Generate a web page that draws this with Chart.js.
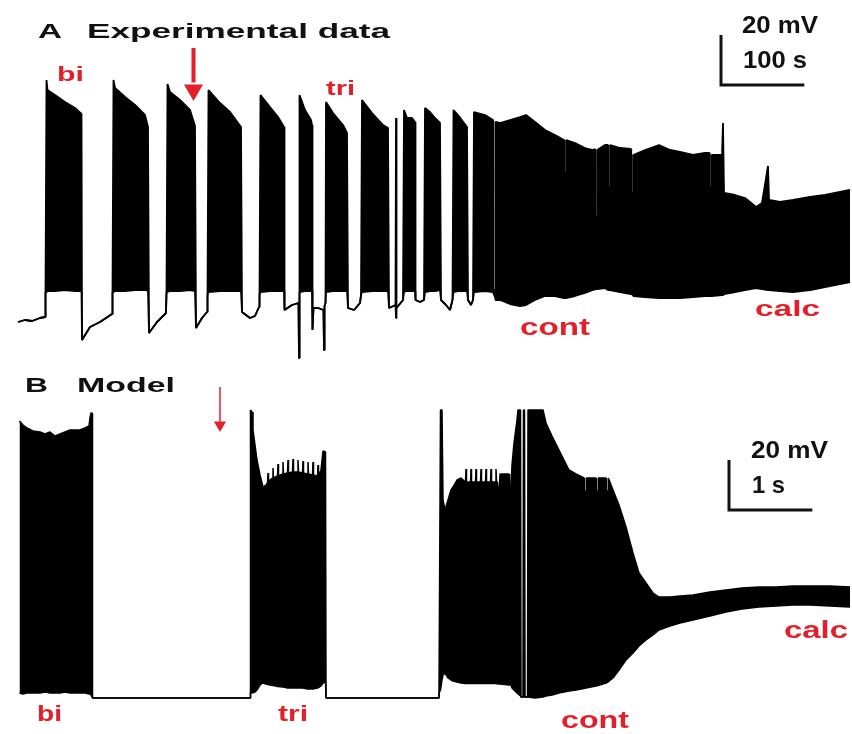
<!DOCTYPE html>
<html>
<head>
<meta charset="utf-8">
<script src="https://cdn.jsdelivr.net/npm/chart.js@4.4.0/dist/chart.umd.min.js"></script>
<style>
body { margin: 0; background: #fff; }
#wrap { position: relative; width: 852px; height: 734px; overflow: hidden; background: #fff; }
canvas { position: absolute; left: 0; display: block; }
.lbl { position: absolute; white-space: nowrap; font-family: "Liberation Sans", Arial, sans-serif; font-weight: bold; line-height: 1; transform-origin: 0 0; }
</style>
</head>
<body>
<div id="wrap">
  <canvas id="chartA" width="852" height="365" style="top:0px"></canvas>
  <canvas id="chartB" width="852" height="369" style="top:365px"></canvas>
</div>
<script>
// Panel A - experimental recording (time in s, membrane potential in mV)
// upper and lower edge of the trace; where they are equal the trace is a single line
var timeA = [
  0, 8.4, 16.8, 26.4, 32.4, 33,
  34.2, 35.4, 44.4, 56.4, 68.4, 76.2,
  76.8, 86.4, 98.4, 112.8, 113.4,
  114.6, 116.4, 128.4, 140.4, 152.4, 156,
  157.2, 166.8, 177.6, 178.2,
  179.4, 182.4, 194.4, 206.4, 212.4,
  213.6, 220.8, 226.8, 227.4,
  228.6, 242.4, 254.4, 267.6,
  268.8, 278.4, 284.4, 289.2, 289.8,
  291, 302.4, 312, 319.2,
  319.8, 328.8, 336.6, 337.2,
  337.8, 344.4, 351.6, 352.8,
  353.4, 354.6, 360, 366.6, 367.2, 367.8, 369,
  369.6, 378, 390, 394.8,
  396, 403.2, 410.4, 411.6,
  412.8, 424.8, 438, 444,
  445.2, 453, 453.6, 454.2, 462,
  463.2, 466.8, 472.8, 476.4,
  477, 482.4, 487.2,
  488.4, 494.4, 500.4, 506.4,
  507.6, 513.6, 518.4, 521.4,
  522.6, 528, 538.8,
  540, 543.6, 546,
  547.2, 560.4, 570, 570.3, 572.7, 573, 578.4, 590.4, 602.4, 609.6,
  620.4, 632.4, 644.4, 655.2, 655.5, 657.6, 657.9, 668.4, 680.4, 690,
  692.4, 692.7, 694.8, 695.1, 704.4, 708, 708.3, 710.4, 710.7, 722.4,
  735.6, 735.9, 738, 738.3, 752.4, 769.2, 782.4, 794.4, 810, 824.4,
  829.8, 830.1, 832.2, 832.5, 844.8, 846, 847.2, 860.4, 872.4, 885.6,
  892.8, 900, 901.2, 914.4, 930, 950.4, 968.4, 986.4, 998.4
];
var topA = [
  -68.8, -68, -68.4, -67.2, -66.8, -56.8,
  28, 24, 22, 19.2, 16.8, 14.4,
  -76, -70.8, -68.8, -65.6, -56.8,
  28, 24.8, 21.2, 18, 14, 9.2,
  -73.2, -68.8, -65.2, -56.8,
  26.4, 23.2, 20, 16, 9.6,
  -71.2, -67.2, -64.8, -58,
  24, 18.8, 15.2, 9.2,
  -64.8, -67.2, -66.4, -62.8, -58,
  22, 17.2, 13.2, 9.2,
  -64, -62, -61.2, -83.2,
  22, 16, 12, 10,
  -72, -63.2, -63.2, -64, -80, -62.4, -61.2,
  19.2, 14.8, 10, 6.8,
  -63.2, -64, -61.2, -58,
  20, 14.8, 10, 8.8,
  -63.2, -62, 12.8, -63.2, -60,
  16, 12.8, 12.8, 11.2,
  -60, -60.8, -60,
  16.8, 15.2, 12.8, 10.8,
  -60, -62, -64, -60,
  16, 14, 9.2,
  -60, -62, -60,
  15.2, 14, 12, -56, -56, 11.2, 10.8, 12, 13.2, 14,
  11.2, 8, 6, 4, -9.2, -9.2, 4, 2.8, 0.8, 0,
  0.4, -26.8, -26.8, 0, 2, 2, -14.8, -14.8, 2, 0.8,
  0.4, -17.2, -17.2, -2, 0, 2, 0, -0.8, -2, -1.2,
  -1.2, -14.8, -14.8, -2, -2, 10.8, -17.2, -18, -19.2, -22.8,
  -21.2, -6.4, -20, -20.8, -20, -18.8, -18, -16.8, -16
];
var bottomA = [
  -68.8, -68, -68.4, -67.2, -66.8, -56.8,
  -56.8, -56.4, -56.4, -56, -56.4, -56.4,
  -76, -70.8, -68.8, -65.6, -56.8,
  -56.8, -56.4, -56.4, -56, -56, -56.4,
  -73.2, -68.8, -65.2, -56.8,
  -56.8, -56.4, -56.4, -56, -56.4,
  -71.2, -67.2, -64.8, -58,
  -56.8, -56.4, -56.4, -56.4,
  -64.8, -67.2, -66.4, -62.8, -58,
  -56.8, -56.4, -56.4, -56.4,
  -64, -62, -61.2, -83.2,
  -56.8, -56.4, -56.4, -56.4,
  -72, -63.2, -63.2, -64, -80, -62.4, -61.2,
  -56.8, -56.4, -56.4, -56.4,
  -63.2, -64, -61.2, -58,
  -56.8, -56.4, -56.4, -56.4,
  -63.2, -62, -67.2, -63.2, -60,
  -56.8, -56.4, -56.4, -56.4,
  -60, -60.8, -60,
  -56.8, -56.4, -56.4, -56,
  -60, -62, -64, -60,
  -56.8, -56.4, -56.4,
  -60, -62, -60,
  -56.8, -56.4, -56.8, -56.8, -59.2, -60, -60, -61.6, -62.4, -62,
  -60, -58.4, -58.4, -59.2, -59.2, -59.2, -59.2, -58.4, -57.2, -56,
  -55.8, -55.6, -55.6, -55.6, -55.2, -56, -56, -56, -56, -56.8,
  -57.6, -57.6, -58, -58.4, -58.8, -59.2, -59.2, -59.2, -58.8, -58.4,
  -58.4, -58.4, -58.4, -58.4, -58, -58, -57.6, -56.8, -56, -55.2,
  -55.6, -56, -56, -56.4, -56.8, -56, -54.8, -53.6, -52.8
];

// Panel B - model (time in s, mV)
var timeB = [
  // bi
  -0.006, 0.036, 0.084, 0.156, 0.24, 0.3, 0.36, 0.42, 0.48, 0.54,
  0.6, 0.66, 0.72, 0.78, 0.828, 0.84, 0.852, 0.864,
  0.87, 2.76,
  // tri
  2.766, 2.784, 2.796, 2.82, 2.844, 2.88, 2.916, 2.952,
  2.97, 2.976, 2.982, 3.0,
  3.03, 3.036, 3.042, 3.09, 3.096, 3.102, 3.15, 3.156, 3.162,
  3.21, 3.216, 3.222, 3.27, 3.276, 3.282, 3.33, 3.336, 3.342,
  3.39, 3.396, 3.402, 3.45, 3.456, 3.462, 3.51, 3.516, 3.522,
  3.57, 3.576, 3.582, 3.612, 3.636, 3.666,
  3.672, 5.016, 5.028,
  // cont
  5.046, 5.064, 5.076, 5.1, 5.136, 5.172, 5.196, 5.244, 5.292,
  5.346, 5.352, 5.358, 5.406, 5.412, 5.418, 5.466, 5.472, 5.478,
  5.526, 5.532, 5.538, 5.586, 5.592, 5.598, 5.646, 5.652, 5.658,
  5.706, 5.712, 5.718,
  5.73, 5.736, 5.754, 5.76, 5.868, 5.874, 5.892, 5.904, 5.928, 5.964, 5.976,
  6.006, 6.012, 6.036, 6.042, 6.054, 6.06, 6.09, 6.096,
  6.18, 6.276, 6.312, 6.384, 6.468, 6.528, 6.588, 6.672,
  6.768, 6.772, 6.792, 6.796, 6.912, 6.916, 6.936, 6.94, 7.032, 7.036, 7.056, 7.06,
  7.116, 7.188, 7.272, 7.356, 7.428, 7.512, 7.596,
  // calc
  7.668, 7.8, 7.92, 8.076, 8.28, 8.472, 8.664, 8.868, 9.072, 9.276,
  9.48, 9.72, 9.96
];
var topB = [
  40.8, 39.2, 38, 36.8, 36.4, 35.6, 36.4, 34.8, 35.6, 36.4,
  37.2, 37.2, 37.2, 38, 38.8, 42, 44, 44,
  -70, -70,
  45.2, 44.4, 37.2, 31.2, 25.2, 19.2, 14.4, 15.2,
  16, 20, 16.4, 17.2,
  18, 22, 18, 18.8, 23.6, 18.8, 19.6, 24.4, 19.6,
  20, 25.2, 20, 20.4, 25.6, 20.4, 20.4, 25.2, 20.4,
  20, 24.8, 20, 19.6, 24.4, 19.6, 19.2, 24.4, 19.2,
  18.8, 23.2, 18.8, 21.2, 28.8, 28.4,
  -70, -70, -68,
  45.2, 45.2, 9.2, 5.2, 9.2, 13.2, 14.4, 17.2, 18,
  16.4, 21.6, 16.4, 16.4, 21.6, 16.4, 16.4, 21.6, 16.4,
  16.4, 21.6, 16.4, 16.4, 21.6, 16.4, 16.4, 21.6, 16.4,
  16.4, 21.6, 16.4,
  16.4, 14, 14, 19.6, 19.6, 14.8, 14.8, 23.2, 32, 41.2, 45.2,
  45.2, -69.6, -69.6, 45.2, 45.2, -69.6, -69.6, 45.2,
  45.2, 45.2, 40, 34.8, 29.2, 25.2, 21.2, 19.6,
  18, 12.8, 12.8, 18, 18, 12.8, 12.8, 18, 18, 12.8, 12.8, 18,
  13.2, 7.2, -1.6, -12, -20, -24, -28,
  -29.6, -29.6, -29.2, -28.8, -27.6, -26.8, -26, -25.6, -25.6, -25.2,
  -25.2, -25.2, -25.6
];
var bottomB = [
  -68, -68.4, -68, -68, -68, -67.6, -68, -68, -68, -67.6,
  -68, -68, -68, -68, -68.4, -68.4, -68.8, -69.6,
  -70, -70,
  -67.6, -68, -68, -67.6, -66.8, -64.8, -64, -64.4,
  -64.6, -64.6, -64.6, -64.8,
  -65, -65, -65, -65.4, -65.4, -65.4, -65.6, -65.6, -65.6,
  -66, -66, -66, -66, -66, -66, -66, -66, -66,
  -66, -66, -66, -66.4, -66.4, -66.4, -66.4, -66.4, -66.4,
  -66, -66, -66, -65.2, -64, -63.6,
  -70, -70, -68,
  -66.8, -62.8, -60.8, -60, -62, -62.8, -63.2, -63.6, -64,
  -64.2, -64.2, -64.2, -64.2, -64.2, -64.2, -64.2, -64.2, -64.2,
  -64.2, -64.2, -64.2, -64.2, -64.2, -64.2, -64.2, -64.2, -64.2,
  -64.2, -64.2, -64.2,
  -64.4, -64.4, -64.4, -64.4, -64.8, -64.8, -64.8, -66, -66.8, -68, -68.4,
  -69.2, -69.6, -69.6, -69.6, -69.6, -69.6, -69.6, -69.6,
  -70, -69.6, -69.2, -68.8, -68, -67.6, -67.2, -66.8,
  -66.2, -66.2, -66, -66, -65.2, -65.2, -65, -65, -64, -64, -63.6, -63.6,
  -62, -58.8, -54.8, -52, -49.2, -46.8, -44.8,
  -42.8, -41.2, -40, -38.8, -37.2, -35.6, -34.4, -33.6, -33.2, -32.8,
  -32.8, -33.2, -33.6
];

// scale bars and arrows, in data units
var barA = { t: 843.6, v: 26, dt: 100, dv: 20 };
var barB = { t: 8.508, v: 5.2, dt: 1, dv: 20 };
var arrowA = { t: 210.6, from: 40.8, to: 27, head: 24, r: 11, w: 4 };
var arrowB = { t: 2.4, from: 54.4, to: 40.4, head: 39.2, r: 7, w: 1.5 };

var red = '#e3202a';
var ink = '#111';

function makeChart(id, times, top, bottom, bar, arrow, xr, yr, lw) {
  if (times.length !== top.length || times.length !== bottom.length) {
    console.error(id, 'length mismatch', times.length, top.length, bottom.length);
  }
  var pts = function(arr) {
    return times.map(function(t, i) { return { x: t, y: arr[i] }; });
  };
  return new Chart(document.getElementById(id), {
    type: 'line',
    data: {
      datasets: [
        { data: pts(top), borderColor: '#000', backgroundColor: '#000', borderWidth: lw,
          fill: '+1', pointRadius: 0, tension: 0, borderJoinStyle: 'bevel' },
        { data: pts(bottom), borderColor: '#000', borderWidth: lw,
          fill: false, pointRadius: 0, tension: 0, borderJoinStyle: 'bevel' },
        { data: [{ x: bar.t, y: bar.v + bar.dv }, { x: bar.t, y: bar.v }, { x: bar.t + bar.dt, y: bar.v }],
          borderColor: ink, borderWidth: 3, fill: false, pointRadius: 0, borderJoinStyle: 'miter' },
        { data: [{ x: arrow.t, y: arrow.from }, { x: arrow.t, y: arrow.to }],
          borderColor: red, borderWidth: arrow.w, fill: false, pointRadius: 0 },
        { data: [{ x: arrow.t, y: arrow.head }], showLine: false, pointStyle: 'triangle',
          pointRotation: 180, pointRadius: arrow.r, pointBackgroundColor: red,
          pointBorderColor: red, pointBorderWidth: 0 }
      ]
    },
    options: {
      responsive: false,
      animation: false,
      events: [],
      layout: { padding: 0, autoPadding: false },
      plugins: { legend: { display: false }, tooltip: { enabled: false } },
      scales: {
        x: { type: 'linear', min: xr[0], max: xr[1], display: false },
        y: { type: 'linear', min: yr[0], max: yr[1], display: false }
      }
    }
  });
}

makeChart('chartA', timeA, topA, bottomA, barA, arrowA, [-21.6, 1000.8], [-86, 60], 1.8);
makeChart('chartB', timeB, topB, bottomB, barB, arrowB, [-0.24, 9.984], [-84.4, 63.2], 1.5);

// text: [text, left, baseline, font size, width, colour]
var labels = [
  ['A', 38, 37.5, 21, 24, ink],
  ['Experimental data', 87, 37.5, 21, 303, ink],
  ['bi', 56.5, 80.5, 21, 27, red],
  ['tri', 326, 95, 21, 29, red],
  ['20 mV', 742, 33, 24, 76, ink],
  ['100 s', 743, 68, 24, 64, ink],
  ['cont', 520, 335, 23, 70, red],
  ['calc', 755, 317, 22, 65, red],
  ['B', 25, 392, 21, 23, ink],
  ['Model', 77, 392, 21, 98, ink],
  ['bi', 37, 722, 22, 25, red],
  ['tri', 278, 722, 22, 30, red],
  ['20 mV', 751, 458, 24, 77, ink],
  ['1 s', 752, 493, 24, 33, ink],
  ['cont', 561, 728, 23, 68, red],
  ['calc', 784, 638, 23, 64, red]
];

var wrap = document.getElementById('wrap');
labels.forEach(function(l) {
  var s = document.createElement('span');
  s.className = 'lbl';
  s.textContent = l[0];
  s.style.fontSize = l[3] + 'px';
  s.style.color = l[5];
  s.style.left = l[1] + 'px';
  s.style.top = (l[2] - 0.8465 * l[3]) + 'px';
  wrap.appendChild(s);
  var w = s.getBoundingClientRect().width;
  s.style.transform = 'scaleX(' + (l[4] / w).toFixed(3) + ')';
});
</script>
</body>
</html>
